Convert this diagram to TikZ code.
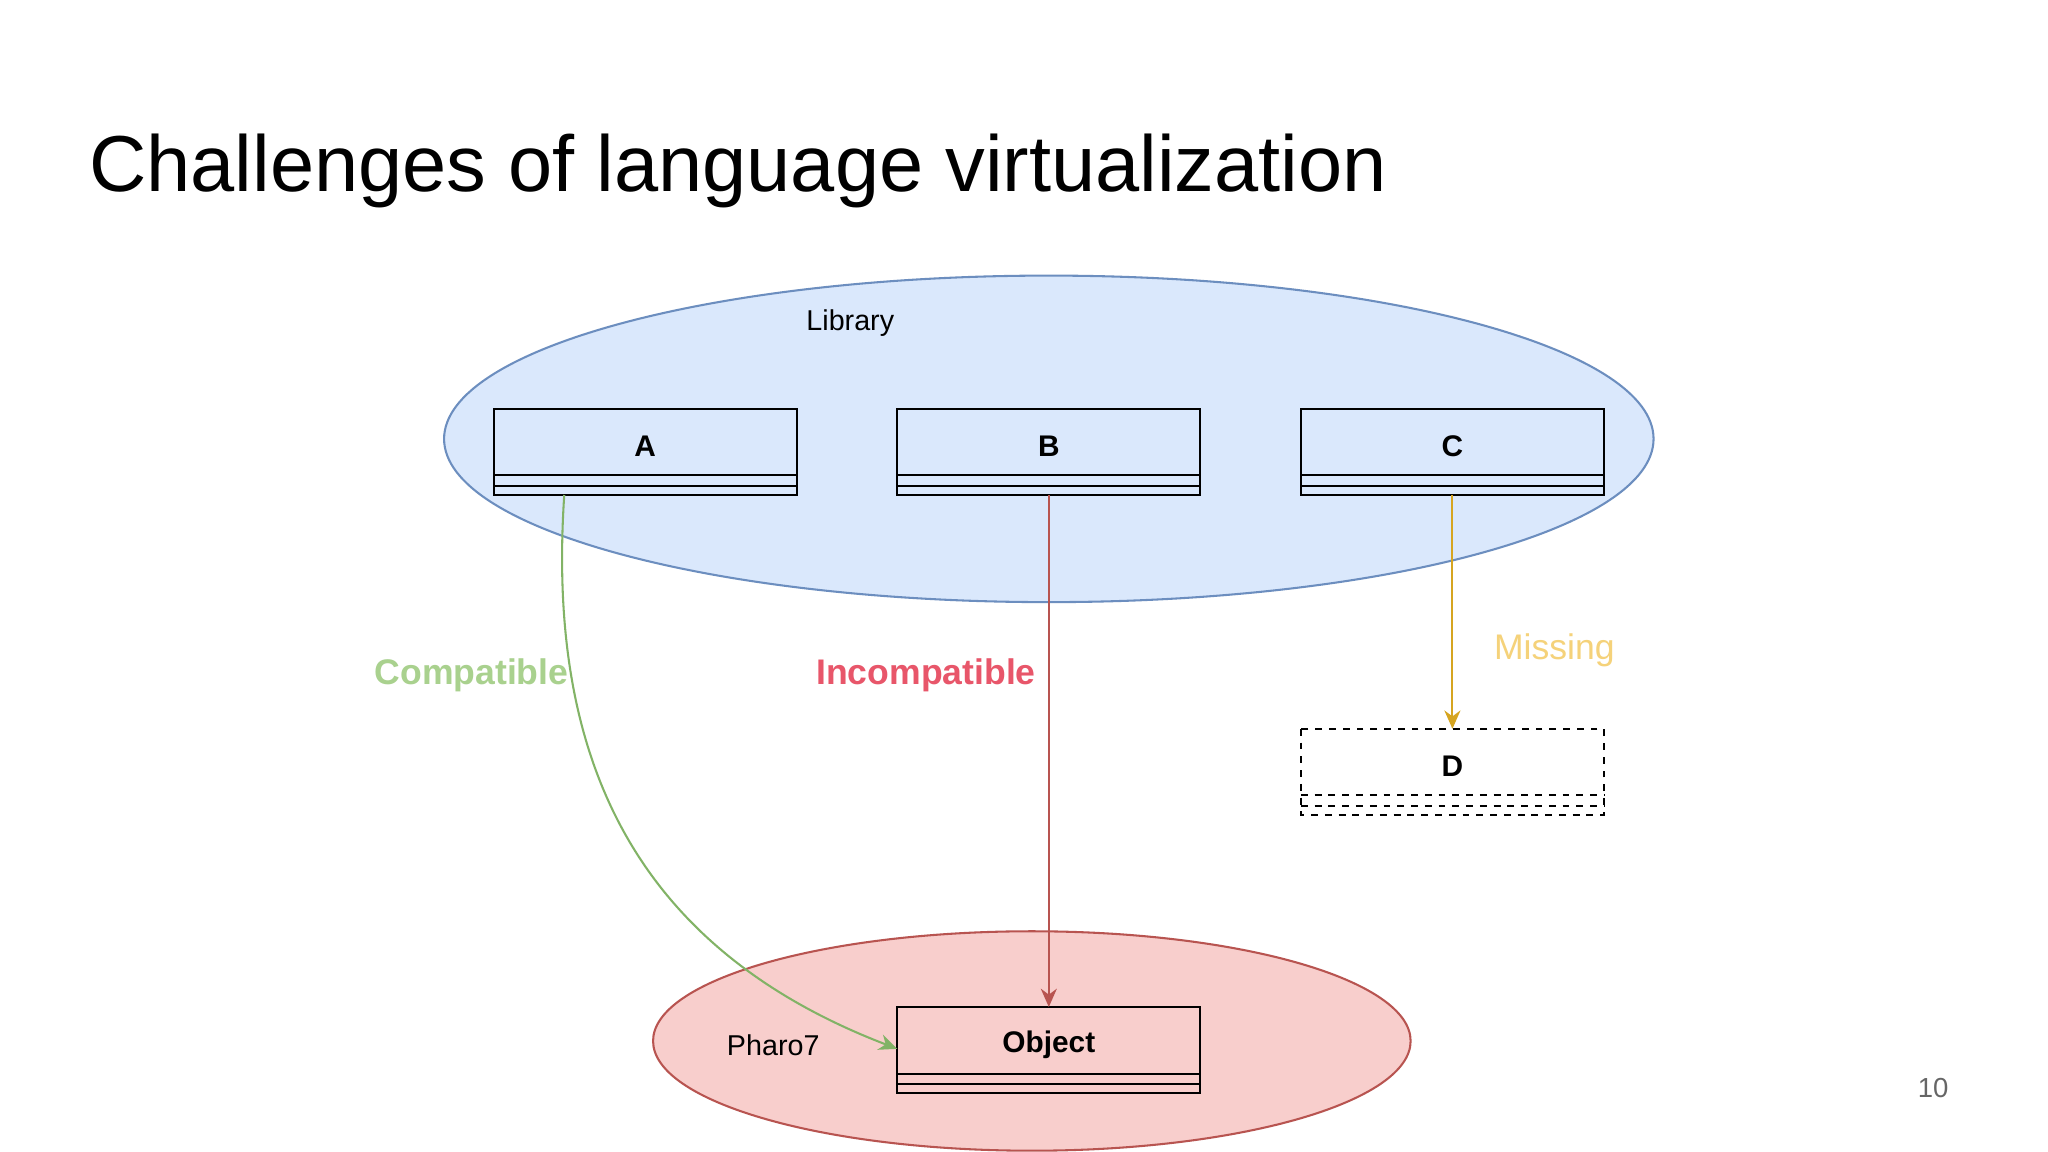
\documentclass[tikz,border=0pt]{standalone}
\usepackage{fontspec}
\setmainfont{Liberation Sans}
\usetikzlibrary{arrows.meta}
\definecolor{libfill}{HTML}{DAE8FC}\definecolor{libdraw}{HTML}{6C8EBF}
\definecolor{phfill}{HTML}{F8CECC}\definecolor{phdraw}{HTML}{B85450}
\definecolor{cgreen}{HTML}{82B366}\definecolor{corange}{HTML}{D6A520}
\definecolor{lgreen}{HTML}{A9D18E}\definecolor{lred}{HTML}{E8566A}\definecolor{lyel}{HTML}{F5D27A}
\tikzset{
 classbox/.style={line width=0.9pt,minimum width=232*0.02cm,minimum height=56*0.02cm,inner sep=0pt,font=\fontsize{13}{15}\selectfont\bfseries},
 conn/.style={line width=0.9pt,-{Stealth[length=8pt,width=7pt]}},
 lbl/.style={font=\fontsize{15.5}{18}\selectfont\bfseries}
}
\begin{document}
\begin{tikzpicture}[x=0.02cm,y=-0.02cm]
\useasboundingbox (0,0) rectangle (1568,882);
\fill[white] (0,0) rectangle (1568,882);
\node[anchor=west,font=\fontsize{34.6}{40}\selectfont,inner sep=0pt] (title) at (68,131) {Challenges of language virtualization};
\begin{scope}
\clip (0,0) rectangle (1568,882);
\draw[fill=libfill,draw=libdraw,line width=0.9pt] (803,336) ellipse [x radius=463,y radius=125];
\draw[fill=phfill,draw=phdraw,line width=0.9pt] (790,797) ellipse [x radius=290,y radius=84];
\end{scope}
\node[font=\fontsize{12.5}{15}\selectfont] (lib) at (651,247) {Library};
\node[font=\fontsize{12.5}{15}\selectfont] (ph) at (592,800) {Pharo7};
\foreach \n/\t/\x/\y/\s in {A/A/494/313/solid,B/B/803/313/solid,C/C/1112/313/solid,D/D/1112/558/dashed,O/Object/803/771/solid}{
 \node[classbox,anchor=north] (\n) at (\x,\y) {\t};
 \draw[\s,line width=0.9pt] (\x-116,\y) rectangle (\x+116,\y+66);
 \draw[\s,line width=0.9pt] (\x-116,\y+51) -- (\x+116,\y+51);
 \draw[\s,line width=1.2pt] (\x-116,\y+59) -- (\x+116,\y+59);
}
\coordinate (As) at (432,379);
\coordinate (Ot) at (687,803);
\draw[conn,cgreen] (As) .. controls (420,560) and (470,720) .. (Ot);
\draw[conn,phdraw] (803,379) -- (O.north);
\draw[conn,corange] (1112,379) -- (D.north);
\node[lbl,lgreen] (l1) at (361,517) {Compatible};
\node[lbl,lred] (l2) at (709,517) {Incompatible};
\node[font=\fontsize{15.5}{18}\selectfont,lyel] (l3) at (1190,498) {Missing};
\node[font=\fontsize{12}{14}\selectfont,gray!80!black] (pg) at (1480,833) {10};
\end{tikzpicture}
\end{document}
